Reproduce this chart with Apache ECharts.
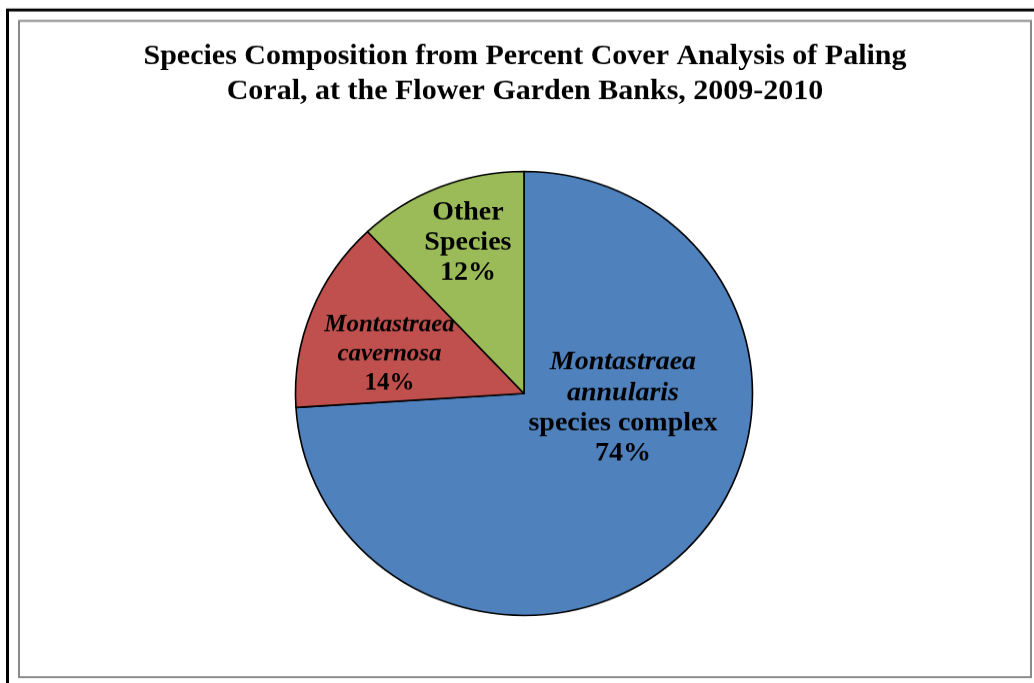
<!DOCTYPE html>
<html>
<head>
<meta charset="utf-8">
<style>
  html, body { margin: 0; padding: 0; background: #ffffff; width: 1034px; height: 683px; overflow: hidden; }
  /* the chart is drawn slightly taller and compressed vertically so the pie reads as a flattened disc */
  #chart { width: 1034px; height: 703px; transform: scaleY(0.9715); transform-origin: 0 0; }
</style>
<script src="https://cdn.jsdelivr.net/npm/echarts@6/dist/echarts.min.js"></script>
</head>
<body>
<div id="chart"></div>
<script>
// Species shares (percent of coral cover), clockwise from 12 o'clock
const categories = ['Montastraea annularis species complex', 'Montastraea cavernosa', 'Other Species'];
const values = [74, 14, 12];
const colors = ['#4F81BD', '#C0504D', '#9BBB59'];

// Label lines per slice: italic (species name) lines, then upright lines
const italicLines = [['Montastraea', 'annularis'], ['Montastraea', 'cavernosa'], []];
const plainLines = [['species complex'], [], ['Other', 'Species']];

const titleText = 'Species Composition from Percent Cover Analysis of Paling\nCoral, at the Flower Garden Banks, 2009-2010';

// Pie geometry (chart coordinates)
const CX = 524, CY = 405, R = 228.5;
// Label anchors: angle clockwise from top (deg), distance as fraction of radius
const labelAnchors = [[98.6, 0.438], [286.8, 0.615], [340.1, 0.721]];
// Label type sizes per slice: [fontSize, lineHeight]
const labelSizes = [[28, 31.4], [25, 29.9], [28, 31]];

const chart = echarts.init(document.getElementById('chart'), null, { renderer: 'canvas' });

const serif = '"Liberation Serif", "Times New Roman", serif';

function richFor(i) {
  const fs = labelSizes[i][0], lh = labelSizes[i][1];
  const r = {};
  r['i' + i] = { fontFamily: serif, fontStyle: 'italic', fontWeight: 'bold', fontSize: fs, lineHeight: lh, color: '#000000', align: 'center' };
  r['b' + i] = { fontFamily: serif, fontWeight: 'bold', fontSize: fs, lineHeight: lh, color: '#000000', align: 'center' };
  return r;
}

chart.setOption({
  backgroundColor: '#ffffff',
  animation: false,
  title: {
    text: titleText,
    left: 525,
    top: 40,
    padding: 0,
    textAlign: 'center',
    textStyle: {
      fontFamily: serif,
      fontWeight: 'bold',
      fontSize: 30,
      lineHeight: 36,
      color: '#000000'
    }
  },
  graphic: [
    // outer black frame edges (left and top)
    { type: 'line', shape: { x1: 7.5, y1: 10.3, x2: 7.5, y2: 703 }, style: { stroke: '#000000', lineWidth: 3 } },
    { type: 'line', shape: { x1: 6, y1: 10.3, x2: 1034, y2: 10.3 }, style: { stroke: '#000000', lineWidth: 3 } },
    // inner chart-area frame
    { type: 'rect', shape: { x: 19, y: 21.6, width: 1012, height: 675.3 }, style: { fill: 'none', stroke: '#8a8a8a', lineWidth: 2 } }
  ],
  series: [{
    type: 'pie',
    center: [CX, CY],
    radius: R,
    startAngle: 90,
    clockwise: true,
    avoidLabelOverlap: false,
    silent: true,
    itemStyle: { borderColor: '#000000', borderWidth: 1.6 },
    labelLine: { show: false },
    labelLayout: function (params) {
      const a = labelAnchors[params.dataIndex];
      const th = a[0] * Math.PI / 180;
      return {
        x: CX + R * a[1] * Math.sin(th),
        y: CY - R * a[1] * Math.cos(th),
        align: 'center',
        verticalAlign: 'middle'
      };
    },
    data: categories.map(function (name, i) {
      return {
        name: name,
        value: values[i],
        itemStyle: { color: colors[i] },
        label: {
          show: true,
          position: 'inside',
          fontFamily: serif,
          color: '#000000',
          formatter: function () {
            const parts = [];
            italicLines[i].forEach(function (t) { parts.push('{i' + i + '|' + t + '}'); });
            plainLines[i].forEach(function (t) { parts.push('{b' + i + '|' + t + '}'); });
            parts.push('{b' + i + '|' + values[i] + '%}');
            return parts.join('\n');
          },
          rich: richFor(i)
        }
      };
    })
  }]
});
</script>
</body>
</html>
